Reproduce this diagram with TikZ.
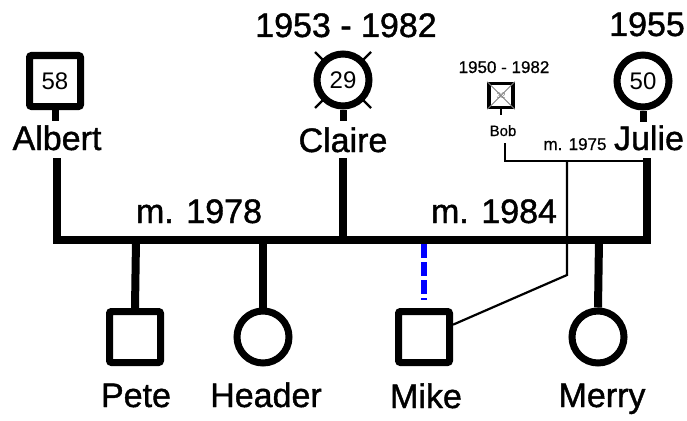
\documentclass[tikz,border=0pt]{standalone}
\usepackage{fontspec}
\setmainfont{Liberation Sans}
\newfontfamily\heavyfont{Liberation Sans}[FakeBold=1.2]
\newfontfamily\midfont{Liberation Sans}[FakeBold=0.6]
\begin{document}
\begin{tikzpicture}[x=1pt,y=-1pt,
  big/.style={font=\heavyfont\fontsize{34}{34}\selectfont, inner sep=0pt, anchor=base},
  small/.style={font=\midfont\fontsize{17}{17}\selectfont, inner sep=0pt, anchor=base},
  tiny/.style={font=\midfont\fontsize{15}{15}\selectfont, inner sep=0pt, anchor=base},
  age/.style={font=\fontsize{24}{24}\selectfont},
  heavy/.style={line width=8pt},
  slim/.style={line width=2.2pt},
  male/.style={draw, line width=7pt, minimum size=51pt, inner sep=0pt, rounded corners=2pt, fill=white},
  female/.style={draw, circle, line width=7pt, minimum size=52pt, inner sep=0pt, fill=white},
  adopted/.style={draw=blue, line width=6pt, dash pattern=on 14pt off 4pt},
]
\useasboundingbox (0,0) rectangle (687,420);

% ---- parents ----
\node[male, age] (albert) at (55,81) {58};
\draw[line width=7pt] (albert.south) -- ++(0,11);
\node[big] (albertname) at (57,150) {Albert};

\draw[slim] (315,52) -- (371,108);
\draw[slim] (371,52) -- (315,108);
\node[female, age] (claire) at (343,80) {29};
\draw[line width=7pt] (claire.south) -- ++(0,11);
\node[big] (clairename) at (343,152) {Claire};
\node[big] (clairedates) at (346,37) {1953 - 1982};

\node[female, age] (julie) at (643,81) {50};
\draw[line width=7pt] (julie.south) -- ++(0,11);
\node[big] (juliename) at (649,150) {Julie};
\node[big] (juliedates) at (647,36) {1955};

\node[draw, line width=3.5pt, minimum size=24pt, inner sep=0pt] (bob) at (501,95.5) {};
\draw[gray, line width=0.8pt] (bob.north west) -- (bob.south east);
\draw[gray, line width=0.8pt] (bob.north east) -- (bob.south west);
\node[font=\fontsize{8}{8}\selectfont, text=gray, inner sep=0pt] at (bob.center) {32};
\draw[line width=2.5pt] (bob.south) -- ++(0,6);
\node[tiny] (bobname) at (503,136) {Bob};
\node[small] (bobdates) at (504,73) {1950 - 1982};
\node[small] (m1975) at (575,150) {m. 1975};

% ---- children ----
\node[male] (pete) at (135,337) {};
\node[female] (header) at (263,337) {};
\node[male] (mike) at (424,337) {};
\node[female] (merry) at (598,337) {};
\node[big] (petename) at (136,407) {Pete};
\node[big] (headername) at (266,407) {Header};
\node[big] (mikename) at (426,408) {Mike};
\node[big] (merryname) at (602,407) {Merry};

% ---- junction coordinates ----
\coordinate (a1) at (57,158);
\coordinate (a2) at (57,240);
\coordinate (c1) at (343,158);
\coordinate (c2) at (343,240);
\coordinate (j1) at (647,158);
\coordinate (j2) at (647,240);
\coordinate (pj) at (136,240);
\coordinate (hj) at (263,240);
\coordinate (mj) at (424,244);
\coordinate (mje) at (424,300);
\coordinate (rj) at (599,240);
\coordinate (b1) at (505,143);
\coordinate (b2) at (505,161);
\coordinate (b3) at (647,161);
\coordinate (k1) at (567,161);
\coordinate (k2) at (567,275);

% ---- marriage lines ----
\draw[heavy] (a1) -- (a2) -- (j2) -- (j1);
\draw[heavy] (c1) -- (c2);
\node[big] (m1978) at (199,223) {m. 1978};
\node[big] (m1984) at (494,223) {m. 1984};

\draw[heavy] (pj) -- (pete.north);
\draw[heavy] (hj) -- (header.north);
\draw[heavy] (rj) -- (merry.north);
\draw[adopted] (mj) -- (mje);

\draw[slim] (b1) -- (b2) -- (b3);
\draw[slim] (k1) -- (k2) -- (mike.23);
\end{tikzpicture}
\end{document}
